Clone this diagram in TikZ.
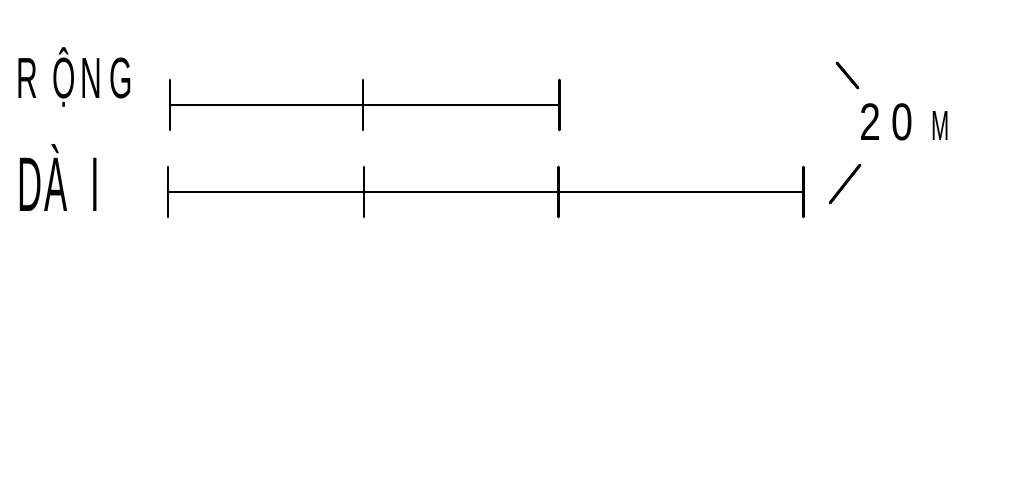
\documentclass[tikz,border=0pt]{standalone}
\usepackage{fontspec}
\newfontfamily\handfont{Liberation Sans}
\newcommand{\hand}[1]{\scalebox{0.52}[1]{#1}}
\newcommand{\thin}[1]{\scalebox{0.45}[1]{#1}}
\tikzset{
  seg/.style={line width=1.7pt, line cap=round},
  word/.style={inner sep=0pt, anchor=base west, font=\handfont\fontsize{33}{33}\selectfont},
}

\begin{document}
\begin{tikzpicture}[x=0.02cm,y=-0.02cm]
        \useasboundingbox (0,0) rectangle (1024,490);

        \node[word] (rong) at (16,98) {\hand{R}\hspace{8pt}\hand{Ộ}\hspace{3pt}\hand{N}\hspace{4pt}\hand{G}};
        \node[word, font=\handfont\fontsize{44}{44}\selectfont] (dai) at (17,211) {\thin{D}\hspace{1pt}\thin{À}\hspace{13pt}\thin{I}};

        \coordinate (rA) at (170,105);
        \coordinate (rB) at (363,105);
        \coordinate (rC) at (559,105);

        \coordinate (dA) at (168,192);
        \coordinate (dB) at (364,192);
        \coordinate (dC) at (558,192);
        \coordinate (dD) at (803,192);

        \draw[seg] (rA) -- (rC);
        \draw[seg] (dA) -- (dD);

        \foreach \p in {rA,rB,rC,dA,dB,dC,dD}
            \draw[seg] ([yshift=0.5cm]\p) -- ([yshift=-0.5cm]\p);

        \node[word, font=\handfont\fontsize{30}{30}\selectfont] (len) at (859,140) {\scalebox{0.75}[1]{2}\hspace{6pt}\scalebox{0.75}[1]{0}\hspace{10pt}{\fontsize{24}{24}\selectfont\hand{M}}};

        \coordinate (up1) at (837,63);
        \coordinate (up2) at (858,88);
        \coordinate (lo1) at (860,165);
        \coordinate (lo2) at (830,203);

        \draw[seg] (up1) -- (up2);
        \draw[seg] (lo1) -- (lo2);
    \end{tikzpicture}
\end{document}
